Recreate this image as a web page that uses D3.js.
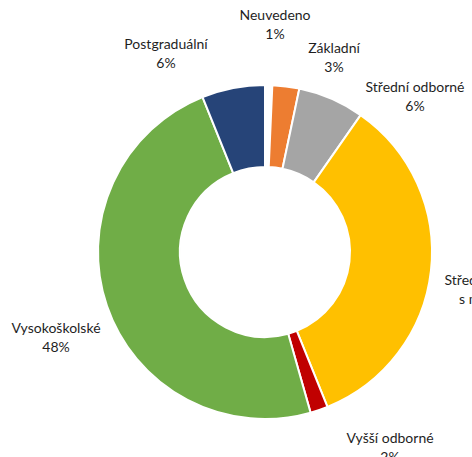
<!DOCTYPE html>
<html>
<head>
<meta charset="utf-8">
<script src="https://cdn.jsdelivr.net/npm/d3@7"></script>
<style>
  body { margin: 0; background: #fff; }
  svg { display: block; }
  .lbl { font-family: Lato, "Open Sans", sans-serif; font-size: 14px; fill: #1f1f1f; }
</style>
</head>
<body>
<script>
// share of respondents by education (%), clockwise from 12 o'clock
var categories = ['Neuvedeno', 'Základní', 'Střední odborné', 'Střední odborné s maturitou', 'Vyšší odborné', 'Vysokoškolské', 'Postgraduální']
var values = [0.7, 2.6, 6.4, 34.2, 1.7, 48.3, 6.1]
var colors = ['#ffffff', '#ED7D31', '#A5A5A5', '#FFC000', '#C00000', '#70AD47', '#264478']
// label lines (name may wrap), label anchor points
var labelLines = [['Neuvedeno'], ['Základní'], ['Střední odborné'], ['Střední odborné', 's maturitou'], ['Vyšší odborné'], ['Vysokoškolské'], ['Postgraduální']]
var labelPos = [[275, 20], [334, 53], [415, 92], [494, 285], [390, 443], [56, 333], [166, 49]]

var width = 472, height = 457
var cx = 265, cy = 252
var outerR = 167, innerR = 85

var svg = d3.select('body').append('svg')
	.attr('width', width)
	.attr('height', height)

var pie = d3.pie()
	.sort(null)
	.value(function(d){ return d })

var arc = d3.arc()
	.innerRadius(innerR)
	.outerRadius(outerR)

var g = svg.append('g')
	.attr('transform', 'translate(' + cx + ',' + cy + ')')

g.selectAll('path')
	.data(pie(values))
	.enter().append('path')
	.attr('d', arc)
	.attr('fill', function(d, i){ return colors[i] })
	.attr('stroke', '#fff')
	.attr('stroke-width', 2)

//labels: name lines then rounded percentage
var labels = svg.selectAll('.lbl')
	.data(categories)
	.enter().append('text')
	.attr('class', 'lbl')
	.attr('text-anchor', 'middle')
	.attr('transform', function(d, i){ return 'translate(' + labelPos[i][0] + ',' + labelPos[i][1] + ')' })

labels.each(function(d, i){
	var t = d3.select(this)
	var lines = labelLines[i].concat([Math.round(values[i]) + '%'])
	lines.forEach(function(l, j){
		t.append('tspan')
			.attr('x', 0)
			.attr('y', j * 19)
			.text(l)
	})
})
</script>
</body>
</html>
